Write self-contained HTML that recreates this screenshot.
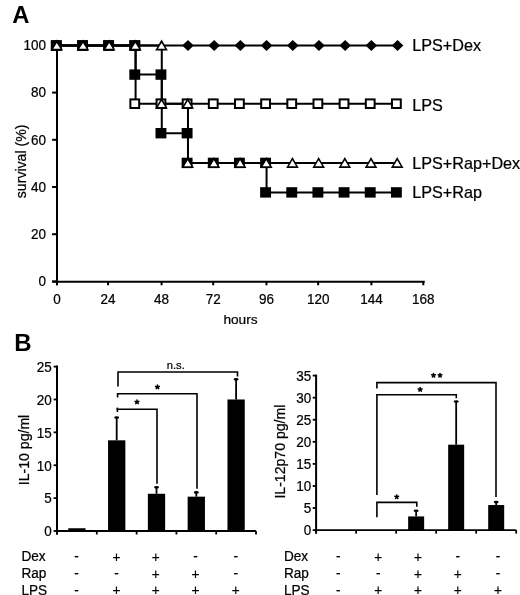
<!DOCTYPE html>
<html><head><meta charset="utf-8"><style>
html,body{margin:0;padding:0;background:#fff;}
svg{display:block;will-change:transform;}
text{font-family:"Liberation Sans", sans-serif;fill:#000;stroke:#000;stroke-width:0.22px;}
text[font-weight=bold]{stroke:none;}
</style></head><body>
<svg width="520" height="595" viewBox="0 0 520 595">
<rect width="520" height="595" fill="#fff"/>
<text x="12.3" y="22.9" font-size="23.8" font-weight="bold">A</text>
<line x1="57.0" y1="45.0" x2="57.0" y2="285.3" stroke="#000" stroke-width="2.0"/>
<line x1="52.1" y1="281.8" x2="424.74399999999997" y2="281.8" stroke="#000" stroke-width="2.0"/>
<line x1="52.1" y1="281.40" x2="57.0" y2="281.40" stroke="#000" stroke-width="2.0"/>
<text transform="translate(46.00,286.20) scale(1,1.06)" font-size="13.5" text-anchor="end">0</text>
<line x1="52.1" y1="234.20" x2="57.0" y2="234.20" stroke="#000" stroke-width="2.0"/>
<text transform="translate(46.00,239.00) scale(1,1.06)" font-size="13.5" text-anchor="end">20</text>
<line x1="52.1" y1="187.00" x2="57.0" y2="187.00" stroke="#000" stroke-width="2.0"/>
<text transform="translate(46.00,191.80) scale(1,1.06)" font-size="13.5" text-anchor="end">40</text>
<line x1="52.1" y1="139.80" x2="57.0" y2="139.80" stroke="#000" stroke-width="2.0"/>
<text transform="translate(46.00,144.60) scale(1,1.06)" font-size="13.5" text-anchor="end">60</text>
<line x1="52.1" y1="92.60" x2="57.0" y2="92.60" stroke="#000" stroke-width="2.0"/>
<text transform="translate(46.00,97.40) scale(1,1.06)" font-size="13.5" text-anchor="end">80</text>
<line x1="52.1" y1="45.50" x2="57.0" y2="45.50" stroke="#000" stroke-width="2.0"/>
<text transform="translate(46.00,50.30) scale(1,1.06)" font-size="13.5" text-anchor="end">100</text>
<line x1="57.00" y1="281.8" x2="57.00" y2="285.3" stroke="#000" stroke-width="2.0"/>
<text transform="translate(57.00,304.40) scale(1,1.06)" font-size="13.5" text-anchor="middle">0</text>
<line x1="108.10" y1="281.8" x2="108.10" y2="285.3" stroke="#000" stroke-width="2.0"/>
<text transform="translate(108.10,304.40) scale(1,1.06)" font-size="13.5" text-anchor="middle">24</text>
<line x1="161.60" y1="281.8" x2="161.60" y2="285.3" stroke="#000" stroke-width="2.0"/>
<text transform="translate(161.60,304.40) scale(1,1.06)" font-size="13.5" text-anchor="middle">48</text>
<line x1="213.20" y1="281.8" x2="213.20" y2="285.3" stroke="#000" stroke-width="2.0"/>
<text transform="translate(213.20,304.40) scale(1,1.06)" font-size="13.5" text-anchor="middle">72</text>
<line x1="266.45" y1="281.8" x2="266.45" y2="285.3" stroke="#000" stroke-width="2.0"/>
<text transform="translate(266.45,304.40) scale(1,1.06)" font-size="13.5" text-anchor="middle">96</text>
<line x1="318.15" y1="281.8" x2="318.15" y2="285.3" stroke="#000" stroke-width="2.0"/>
<text transform="translate(318.15,304.40) scale(1,1.06)" font-size="13.5" text-anchor="middle">120</text>
<line x1="371.40" y1="281.8" x2="371.40" y2="285.3" stroke="#000" stroke-width="2.0"/>
<text transform="translate(371.40,304.40) scale(1,1.06)" font-size="13.5" text-anchor="middle">144</text>
<line x1="423.30" y1="281.8" x2="423.30" y2="285.3" stroke="#000" stroke-width="2.0"/>
<text transform="translate(423.30,304.40) scale(1,1.06)" font-size="13.5" text-anchor="middle">168</text>
<text x="240.5" y="323.6" font-size="13.7" text-anchor="middle">hours</text>
<text transform="translate(25.7,161.4) rotate(-90)" font-size="14.1" text-anchor="middle">survival (%)</text>
<path d="M57.00,45.50 L83.20,45.50 L109.39,45.50 L135.59,45.50 L161.78,45.50 L187.98,45.50 L214.18,45.50 L240.37,45.50 L266.57,45.50 L292.76,45.50 L318.96,45.50 L345.16,45.50 L371.35,45.50 L397.55,45.50" fill="none" stroke="#000" stroke-width="2.0"/>
<path d="M57.00,45.50 L83.20,45.50 L109.39,45.50 L135.59,45.50 L135.59,103.70 L161.78,103.70 L187.98,103.70 L214.18,103.70 L240.37,103.70 L266.57,103.70 L292.76,103.70 L318.96,103.70 L345.16,103.70 L371.35,103.70 L397.55,103.70" fill="none" stroke="#000" stroke-width="2.0"/>
<path d="M57.00,45.50 L83.20,45.50 L109.39,45.50 L135.59,45.50 L161.78,45.50 L161.78,103.70 L187.98,103.70 L187.98,162.90 L214.18,162.90 L240.37,162.90 L266.57,162.90 L292.76,162.90 L318.96,162.90 L345.16,162.90 L371.35,162.90 L397.55,162.90" fill="none" stroke="#000" stroke-width="2.0"/>
<path d="M57.00,45.50 L83.20,45.50 L109.39,45.50 L135.59,45.50 L135.59,74.60 L161.78,74.60 L161.78,133.20 L187.98,133.20 L187.98,162.90 L214.18,162.90 L240.37,162.90 L266.57,162.90 L266.57,192.40 L292.76,192.40 L318.96,192.40 L345.16,192.40 L371.35,192.40 L397.55,192.40" fill="none" stroke="#000" stroke-width="2.0"/>
<path d="M187.98,40.00 L193.78,45.50 L187.98,51.00 L182.18,45.50Z" fill="#000"/>
<path d="M214.18,40.00 L219.98,45.50 L214.18,51.00 L208.38,45.50Z" fill="#000"/>
<path d="M240.37,40.00 L246.17,45.50 L240.37,51.00 L234.57,45.50Z" fill="#000"/>
<path d="M266.57,40.00 L272.37,45.50 L266.57,51.00 L260.77,45.50Z" fill="#000"/>
<path d="M292.76,40.00 L298.56,45.50 L292.76,51.00 L286.96,45.50Z" fill="#000"/>
<path d="M318.96,40.00 L324.76,45.50 L318.96,51.00 L313.16,45.50Z" fill="#000"/>
<path d="M345.16,40.00 L350.96,45.50 L345.16,51.00 L339.36,45.50Z" fill="#000"/>
<path d="M371.35,40.00 L377.15,45.50 L371.35,51.00 L365.55,45.50Z" fill="#000"/>
<path d="M397.55,40.00 L403.35,45.50 L397.55,51.00 L391.75,45.50Z" fill="#000"/>
<rect x="51.90" y="41.20" width="8.8" height="8.6" fill="#fff" stroke="#000" stroke-width="2"/>
<rect x="78.06" y="41.20" width="8.8" height="8.6" fill="#fff" stroke="#000" stroke-width="2"/>
<rect x="104.22" y="41.20" width="8.8" height="8.6" fill="#fff" stroke="#000" stroke-width="2"/>
<rect x="130.38" y="41.20" width="8.8" height="8.6" fill="#fff" stroke="#000" stroke-width="2"/>
<rect x="130.38" y="99.40" width="8.8" height="8.6" fill="#fff" stroke="#000" stroke-width="2"/>
<rect x="156.54" y="99.40" width="8.8" height="8.6" fill="#fff" stroke="#000" stroke-width="2"/>
<rect x="182.70" y="99.40" width="8.8" height="8.6" fill="#fff" stroke="#000" stroke-width="2"/>
<rect x="208.86" y="99.40" width="8.8" height="8.6" fill="#fff" stroke="#000" stroke-width="2"/>
<rect x="235.02" y="99.40" width="8.8" height="8.6" fill="#fff" stroke="#000" stroke-width="2"/>
<rect x="261.18" y="99.40" width="8.8" height="8.6" fill="#fff" stroke="#000" stroke-width="2"/>
<rect x="287.34" y="99.40" width="8.8" height="8.6" fill="#fff" stroke="#000" stroke-width="2"/>
<rect x="313.50" y="99.40" width="8.8" height="8.6" fill="#fff" stroke="#000" stroke-width="2"/>
<rect x="339.66" y="99.40" width="8.8" height="8.6" fill="#fff" stroke="#000" stroke-width="2"/>
<rect x="365.82" y="99.40" width="8.8" height="8.6" fill="#fff" stroke="#000" stroke-width="2"/>
<rect x="391.98" y="99.40" width="8.8" height="8.6" fill="#fff" stroke="#000" stroke-width="2"/>
<rect x="50.85" y="40.30" width="10.9" height="10.4" fill="#000"/>
<rect x="77.01" y="40.30" width="10.9" height="10.4" fill="#000"/>
<rect x="103.17" y="40.30" width="10.9" height="10.4" fill="#000"/>
<rect x="129.33" y="40.30" width="10.9" height="10.4" fill="#000"/>
<rect x="129.33" y="69.40" width="10.9" height="10.4" fill="#000"/>
<rect x="155.49" y="69.40" width="10.9" height="10.4" fill="#000"/>
<rect x="155.49" y="128.00" width="10.9" height="10.4" fill="#000"/>
<rect x="181.65" y="128.00" width="10.9" height="10.4" fill="#000"/>
<rect x="181.65" y="157.70" width="10.9" height="10.4" fill="#000"/>
<rect x="207.81" y="157.70" width="10.9" height="10.4" fill="#000"/>
<rect x="233.97" y="157.70" width="10.9" height="10.4" fill="#000"/>
<rect x="260.13" y="157.70" width="10.9" height="10.4" fill="#000"/>
<rect x="260.13" y="187.20" width="10.9" height="10.4" fill="#000"/>
<rect x="286.29" y="187.20" width="10.9" height="10.4" fill="#000"/>
<rect x="312.45" y="187.20" width="10.9" height="10.4" fill="#000"/>
<rect x="338.61" y="187.20" width="10.9" height="10.4" fill="#000"/>
<rect x="364.77" y="187.20" width="10.9" height="10.4" fill="#000"/>
<rect x="390.93" y="187.20" width="10.9" height="10.4" fill="#000"/>
<path d="M56.80,39.50 L63.10,50.60 L50.50,50.60Z" fill="#000"/><path d="M56.80,42.90 L60.40,48.80 L53.20,48.80Z" fill="#fff"/>
<path d="M82.98,39.50 L89.28,50.60 L76.68,50.60Z" fill="#000"/><path d="M82.98,42.90 L86.58,48.80 L79.38,48.80Z" fill="#fff"/>
<path d="M109.17,39.50 L115.47,50.60 L102.87,50.60Z" fill="#000"/><path d="M109.17,42.90 L112.77,48.80 L105.57,48.80Z" fill="#fff"/>
<path d="M135.35,39.50 L141.65,50.60 L129.05,50.60Z" fill="#000"/><path d="M135.35,42.90 L138.95,48.80 L131.75,48.80Z" fill="#fff"/>
<path d="M161.54,39.50 L167.84,50.60 L155.24,50.60Z" fill="#000"/><path d="M161.54,42.90 L165.14,48.80 L157.94,48.80Z" fill="#fff"/>
<path d="M161.54,97.70 L167.84,108.80 L155.24,108.80Z" fill="#000"/><path d="M161.54,101.10 L165.14,107.00 L157.94,107.00Z" fill="#fff"/>
<path d="M187.72,97.70 L194.02,108.80 L181.42,108.80Z" fill="#000"/><path d="M187.72,101.10 L191.32,107.00 L184.12,107.00Z" fill="#fff"/>
<path d="M187.72,156.90 L194.02,168.00 L181.42,168.00Z" fill="#000"/><path d="M187.72,160.30 L191.32,166.20 L184.12,166.20Z" fill="#fff"/>
<path d="M213.90,156.90 L220.20,168.00 L207.60,168.00Z" fill="#000"/><path d="M213.90,160.30 L217.50,166.20 L210.30,166.20Z" fill="#fff"/>
<path d="M240.09,156.90 L246.39,168.00 L233.79,168.00Z" fill="#000"/><path d="M240.09,160.30 L243.69,166.20 L236.49,166.20Z" fill="#fff"/>
<path d="M266.27,156.90 L272.57,168.00 L259.97,168.00Z" fill="#000"/><path d="M266.27,160.30 L269.87,166.20 L262.67,166.20Z" fill="#fff"/>
<path d="M292.46,156.90 L298.76,168.00 L286.16,168.00Z" fill="#000"/><path d="M292.46,160.30 L296.06,166.20 L288.86,166.20Z" fill="#fff"/>
<path d="M318.64,156.90 L324.94,168.00 L312.34,168.00Z" fill="#000"/><path d="M318.64,160.30 L322.24,166.20 L315.04,166.20Z" fill="#fff"/>
<path d="M344.82,156.90 L351.12,168.00 L338.52,168.00Z" fill="#000"/><path d="M344.82,160.30 L348.42,166.20 L341.22,166.20Z" fill="#fff"/>
<path d="M371.01,156.90 L377.31,168.00 L364.71,168.00Z" fill="#000"/><path d="M371.01,160.30 L374.61,166.20 L367.41,166.20Z" fill="#fff"/>
<path d="M397.19,156.90 L403.49,168.00 L390.89,168.00Z" fill="#000"/><path d="M397.19,160.30 L400.79,166.20 L393.59,166.20Z" fill="#fff"/>
<text x="412.2" y="51.1" font-size="16.2">LPS+Dex</text>
<text x="412.2" y="110.6" font-size="16.2">LPS</text>
<text x="412.2" y="169.4" font-size="16.2">LPS+Rap+Dex</text>
<text x="412.2" y="198.0" font-size="16.2">LPS+Rap</text>
<text x="14.2" y="351.0" font-size="24" font-weight="bold">B</text>
<line x1="57" y1="365.6" x2="57" y2="534.5" stroke="#000" stroke-width="2"/>
<line x1="57" y1="531" x2="256" y2="531" stroke="#000" stroke-width="1.9"/>
<line x1="53.6" y1="531.00" x2="57" y2="531.00" stroke="#000" stroke-width="1.8"/>
<text transform="translate(51.80,536.30) scale(1,1.06)" font-size="13.5" text-anchor="end">0</text>
<line x1="53.6" y1="498.12" x2="57" y2="498.12" stroke="#000" stroke-width="1.8"/>
<text transform="translate(51.80,503.42) scale(1,1.06)" font-size="13.5" text-anchor="end">5</text>
<line x1="53.6" y1="465.24" x2="57" y2="465.24" stroke="#000" stroke-width="1.8"/>
<text transform="translate(51.80,470.54) scale(1,1.06)" font-size="13.5" text-anchor="end">10</text>
<line x1="53.6" y1="432.36" x2="57" y2="432.36" stroke="#000" stroke-width="1.8"/>
<text transform="translate(51.80,437.66) scale(1,1.06)" font-size="13.5" text-anchor="end">15</text>
<line x1="53.6" y1="399.48" x2="57" y2="399.48" stroke="#000" stroke-width="1.8"/>
<text transform="translate(51.80,404.78) scale(1,1.06)" font-size="13.5" text-anchor="end">20</text>
<line x1="53.6" y1="366.60" x2="57" y2="366.60" stroke="#000" stroke-width="1.8"/>
<text transform="translate(51.80,371.90) scale(1,1.06)" font-size="13.5" text-anchor="end">25</text>
<line x1="57.00" y1="531" x2="57.00" y2="534.5" stroke="#000" stroke-width="1.8"/>
<line x1="96.80" y1="531" x2="96.80" y2="534.5" stroke="#000" stroke-width="1.8"/>
<line x1="136.60" y1="531" x2="136.60" y2="534.5" stroke="#000" stroke-width="1.8"/>
<line x1="176.40" y1="531" x2="176.40" y2="534.5" stroke="#000" stroke-width="1.8"/>
<line x1="216.20" y1="531" x2="216.20" y2="534.5" stroke="#000" stroke-width="1.8"/>
<line x1="256.00" y1="531" x2="256.00" y2="534.5" stroke="#000" stroke-width="1.8"/>
<rect x="68.25" y="528.24" width="17.3" height="2.76" fill="#000"/>
<rect x="108.05" y="440.32" width="17.3" height="90.68" fill="#000"/>
<line x1="116.70" y1="440.32" x2="116.70" y2="417.89" stroke="#000" stroke-width="1.8"/>
<ellipse cx="116.70" cy="417.49" rx="2.5" ry="1.3" fill="#000"/>
<rect x="147.85" y="493.78" width="17.3" height="37.22" fill="#000"/>
<line x1="156.50" y1="493.78" x2="156.50" y2="487.73" stroke="#000" stroke-width="1.8"/>
<ellipse cx="156.50" cy="487.33" rx="2.5" ry="1.3" fill="#000"/>
<rect x="187.65" y="496.67" width="17.3" height="34.33" fill="#000"/>
<line x1="196.30" y1="496.67" x2="196.30" y2="492.79" stroke="#000" stroke-width="1.8"/>
<ellipse cx="196.30" cy="492.39" rx="2.5" ry="1.3" fill="#000"/>
<rect x="227.45" y="399.48" width="17.3" height="131.52" fill="#000"/>
<line x1="236.10" y1="399.48" x2="236.10" y2="379.75" stroke="#000" stroke-width="1.8"/>
<ellipse cx="236.10" cy="379.35" rx="2.5" ry="1.3" fill="#000"/>
<text transform="translate(28.5,450) rotate(-90)" font-size="14.1" text-anchor="middle">IL-10 pg/ml</text>
<line x1="316.1" y1="374.6" x2="316.1" y2="533.6" stroke="#000" stroke-width="2"/>
<line x1="316.1" y1="530.1" x2="516.2" y2="530.1" stroke="#000" stroke-width="1.9"/>
<line x1="312.70000000000005" y1="530.10" x2="316.1" y2="530.10" stroke="#000" stroke-width="1.8"/>
<text transform="translate(311.30,535.40) scale(1,1.06)" font-size="13.5" text-anchor="end">0</text>
<line x1="312.70000000000005" y1="508.03" x2="316.1" y2="508.03" stroke="#000" stroke-width="1.8"/>
<text transform="translate(311.30,513.33) scale(1,1.06)" font-size="13.5" text-anchor="end">5</text>
<line x1="312.70000000000005" y1="485.96" x2="316.1" y2="485.96" stroke="#000" stroke-width="1.8"/>
<text transform="translate(311.30,491.26) scale(1,1.06)" font-size="13.5" text-anchor="end">10</text>
<line x1="312.70000000000005" y1="463.89" x2="316.1" y2="463.89" stroke="#000" stroke-width="1.8"/>
<text transform="translate(311.30,469.19) scale(1,1.06)" font-size="13.5" text-anchor="end">15</text>
<line x1="312.70000000000005" y1="441.81" x2="316.1" y2="441.81" stroke="#000" stroke-width="1.8"/>
<text transform="translate(311.30,447.11) scale(1,1.06)" font-size="13.5" text-anchor="end">20</text>
<line x1="312.70000000000005" y1="419.74" x2="316.1" y2="419.74" stroke="#000" stroke-width="1.8"/>
<text transform="translate(311.30,425.04) scale(1,1.06)" font-size="13.5" text-anchor="end">25</text>
<line x1="312.70000000000005" y1="397.67" x2="316.1" y2="397.67" stroke="#000" stroke-width="1.8"/>
<text transform="translate(311.30,402.97) scale(1,1.06)" font-size="13.5" text-anchor="end">30</text>
<line x1="312.70000000000005" y1="375.60" x2="316.1" y2="375.60" stroke="#000" stroke-width="1.8"/>
<text transform="translate(311.30,380.90) scale(1,1.06)" font-size="13.5" text-anchor="end">35</text>
<line x1="316.10" y1="530.1" x2="316.10" y2="533.6" stroke="#000" stroke-width="1.8"/>
<line x1="356.12" y1="530.1" x2="356.12" y2="533.6" stroke="#000" stroke-width="1.8"/>
<line x1="396.14" y1="530.1" x2="396.14" y2="533.6" stroke="#000" stroke-width="1.8"/>
<line x1="436.16" y1="530.1" x2="436.16" y2="533.6" stroke="#000" stroke-width="1.8"/>
<line x1="476.18" y1="530.1" x2="476.18" y2="533.6" stroke="#000" stroke-width="1.8"/>
<line x1="516.20" y1="530.1" x2="516.20" y2="533.6" stroke="#000" stroke-width="1.8"/>
<rect x="408.15" y="516.42" width="16.0" height="13.68" fill="#000"/>
<line x1="416.15" y1="516.42" x2="416.15" y2="511.12" stroke="#000" stroke-width="1.8"/>
<ellipse cx="416.15" cy="510.72" rx="2.5" ry="1.3" fill="#000"/>
<rect x="448.17" y="444.68" width="16.0" height="85.42" fill="#000"/>
<line x1="456.17" y1="444.68" x2="456.17" y2="401.87" stroke="#000" stroke-width="1.8"/>
<ellipse cx="456.17" cy="401.47" rx="2.5" ry="1.3" fill="#000"/>
<rect x="488.19" y="505.03" width="16.0" height="25.07" fill="#000"/>
<line x1="496.19" y1="505.03" x2="496.19" y2="502.51" stroke="#000" stroke-width="1.8"/>
<ellipse cx="496.19" cy="502.11" rx="2.5" ry="1.3" fill="#000"/>
<text transform="translate(285,451.6) rotate(-90)" font-size="14.1" text-anchor="middle">IL-12p70 pg/ml</text>
<path d="M118.00,386.60 L118.00,372.00 L237.50,372.00 L237.50,376.50" fill="none" stroke="#000" stroke-width="1.6"/>
<path d="M117.60,397.40 L117.60,393.70 L197.00,393.70 L197.00,488.80" fill="none" stroke="#000" stroke-width="1.6"/>
<path d="M117.40,412.00 L117.40,409.30 L157.00,409.30 L157.00,483.70" fill="none" stroke="#000" stroke-width="1.6"/>
<line x1="117.4" y1="407.6" x2="117.4" y2="410" stroke="#000" stroke-width="1.6"/>
<text x="175.8" y="368.9" font-size="11.2" text-anchor="middle">n.s.</text>
<path d="M157.45,387.00 L157.45,385.05 M157.45,387.00 L159.30,386.40 M157.45,387.00 L158.60,388.58 M157.45,387.00 L156.30,388.58 M157.45,387.00 L155.60,386.40" stroke="#000" stroke-width="1.55" stroke-linecap="round" fill="none"/>
<path d="M137.00,402.00 L137.00,400.05 M137.00,402.00 L138.85,401.40 M137.00,402.00 L138.15,403.58 M137.00,402.00 L135.85,403.58 M137.00,402.00 L135.15,401.40" stroke="#000" stroke-width="1.55" stroke-linecap="round" fill="none"/>
<path d="M376.90,388.60 L376.90,382.60 L496.00,382.60 L496.00,497.00" fill="none" stroke="#000" stroke-width="1.6"/>
<path d="M376.90,495.00 L376.90,394.70 L456.30,394.70 L456.30,398.30" fill="none" stroke="#000" stroke-width="1.6"/>
<path d="M376.90,517.20 L376.90,502.40 L416.80,502.40 L416.80,506.80" fill="none" stroke="#000" stroke-width="1.6"/>
<path d="M433.50,375.40 L433.50,373.45 M433.50,375.40 L435.35,374.80 M433.50,375.40 L434.65,376.98 M433.50,375.40 L432.35,376.98 M433.50,375.40 L431.65,374.80" stroke="#000" stroke-width="1.55" stroke-linecap="round" fill="none"/>
<path d="M440.00,375.40 L440.00,373.45 M440.00,375.40 L441.85,374.80 M440.00,375.40 L441.15,376.98 M440.00,375.40 L438.85,376.98 M440.00,375.40 L438.15,374.80" stroke="#000" stroke-width="1.55" stroke-linecap="round" fill="none"/>
<path d="M420.15,389.50 L420.15,387.55 M420.15,389.50 L422.00,388.90 M420.15,389.50 L421.30,391.08 M420.15,389.50 L419.00,391.08 M420.15,389.50 L418.30,388.90" stroke="#000" stroke-width="1.55" stroke-linecap="round" fill="none"/>
<path d="M396.70,496.90 L396.70,494.95 M396.70,496.90 L398.55,496.30 M396.70,496.90 L397.85,498.48 M396.70,496.90 L395.55,498.48 M396.70,496.90 L394.85,496.30" stroke="#000" stroke-width="1.55" stroke-linecap="round" fill="none"/>
<text transform="translate(21.50,561.00) scale(1,1.06)" font-size="13.6" text-anchor="start">Dex</text>
<text transform="translate(283.90,561.00) scale(1,1.06)" font-size="13.6" text-anchor="start">Dex</text>
<text transform="translate(76.50,561.00) scale(1,1.06)" font-size="13.6" text-anchor="middle">-</text>
<text transform="translate(116.40,561.50) scale(1,1.06)" font-size="13.6" text-anchor="middle">+</text>
<text transform="translate(155.80,561.50) scale(1,1.06)" font-size="13.6" text-anchor="middle">+</text>
<text transform="translate(195.50,561.00) scale(1,1.06)" font-size="13.6" text-anchor="middle">-</text>
<text transform="translate(235.80,561.00) scale(1,1.06)" font-size="13.6" text-anchor="middle">-</text>
<text transform="translate(338.20,561.00) scale(1,1.06)" font-size="13.6" text-anchor="middle">-</text>
<text transform="translate(378.20,561.50) scale(1,1.06)" font-size="13.6" text-anchor="middle">+</text>
<text transform="translate(418.00,561.50) scale(1,1.06)" font-size="13.6" text-anchor="middle">+</text>
<text transform="translate(457.70,561.00) scale(1,1.06)" font-size="13.6" text-anchor="middle">-</text>
<text transform="translate(498.00,561.00) scale(1,1.06)" font-size="13.6" text-anchor="middle">-</text>
<text transform="translate(21.50,578.00) scale(1,1.06)" font-size="13.6" text-anchor="start">Rap</text>
<text transform="translate(283.90,578.00) scale(1,1.06)" font-size="13.6" text-anchor="start">Rap</text>
<text transform="translate(76.50,578.00) scale(1,1.06)" font-size="13.6" text-anchor="middle">-</text>
<text transform="translate(116.40,578.00) scale(1,1.06)" font-size="13.6" text-anchor="middle">-</text>
<text transform="translate(155.80,578.50) scale(1,1.06)" font-size="13.6" text-anchor="middle">+</text>
<text transform="translate(195.50,578.50) scale(1,1.06)" font-size="13.6" text-anchor="middle">+</text>
<text transform="translate(235.80,578.00) scale(1,1.06)" font-size="13.6" text-anchor="middle">-</text>
<text transform="translate(338.20,578.00) scale(1,1.06)" font-size="13.6" text-anchor="middle">-</text>
<text transform="translate(378.20,578.00) scale(1,1.06)" font-size="13.6" text-anchor="middle">-</text>
<text transform="translate(418.00,578.50) scale(1,1.06)" font-size="13.6" text-anchor="middle">+</text>
<text transform="translate(457.70,578.50) scale(1,1.06)" font-size="13.6" text-anchor="middle">+</text>
<text transform="translate(498.00,578.00) scale(1,1.06)" font-size="13.6" text-anchor="middle">-</text>
<text transform="translate(21.50,594.50) scale(1,1.06)" font-size="13.6" text-anchor="start">LPS</text>
<text transform="translate(283.90,594.50) scale(1,1.06)" font-size="13.6" text-anchor="start">LPS</text>
<text transform="translate(76.50,594.50) scale(1,1.06)" font-size="13.6" text-anchor="middle">-</text>
<text transform="translate(116.40,595.00) scale(1,1.06)" font-size="13.6" text-anchor="middle">+</text>
<text transform="translate(155.80,595.00) scale(1,1.06)" font-size="13.6" text-anchor="middle">+</text>
<text transform="translate(195.50,595.00) scale(1,1.06)" font-size="13.6" text-anchor="middle">+</text>
<text transform="translate(235.80,595.00) scale(1,1.06)" font-size="13.6" text-anchor="middle">+</text>
<text transform="translate(338.20,594.50) scale(1,1.06)" font-size="13.6" text-anchor="middle">-</text>
<text transform="translate(378.20,595.00) scale(1,1.06)" font-size="13.6" text-anchor="middle">+</text>
<text transform="translate(418.00,595.00) scale(1,1.06)" font-size="13.6" text-anchor="middle">+</text>
<text transform="translate(457.70,595.00) scale(1,1.06)" font-size="13.6" text-anchor="middle">+</text>
<text transform="translate(498.00,595.00) scale(1,1.06)" font-size="13.6" text-anchor="middle">+</text>
</svg>
</body></html>
